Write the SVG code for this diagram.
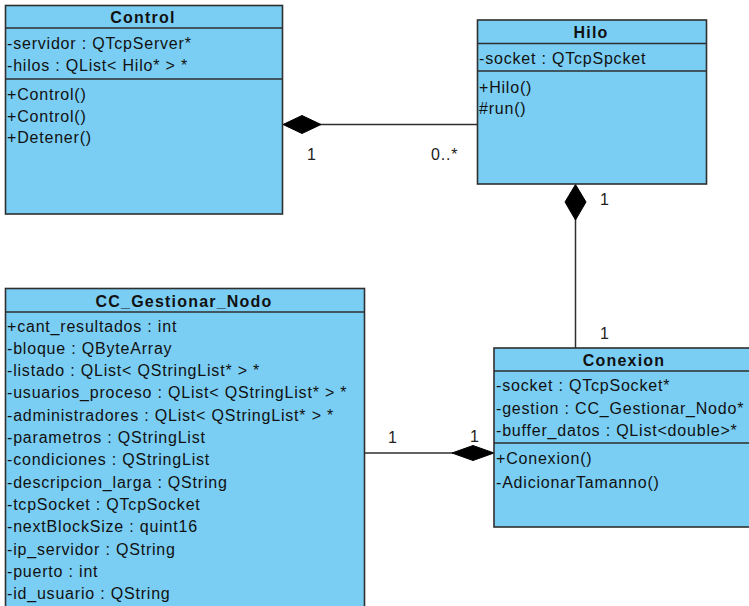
<svg xmlns="http://www.w3.org/2000/svg" width="749" height="606" viewBox="0 0 749 606">
  <style>
    .box { fill: #7acef4; stroke: #2f2f2f; stroke-width: 1.6; }
    .sep { stroke: #2f2f2f; stroke-width: 1.4; fill: none; }
    .title { font-family: "Liberation Sans", Arial, sans-serif; font-size: 16px; font-weight: bold; letter-spacing: 1.2px; fill: #111; text-anchor: middle; }
    .member { font-family: "Liberation Sans", Arial, sans-serif; font-size: 16px; letter-spacing: 0.8px; fill: #111; }
    .edge { stroke: #2f2f2f; stroke-width: 1.5; fill: none; }
    .diamond { fill: #000; stroke: #000; stroke-width: 1; }
    .mult { font-family: "Liberation Sans", Arial, sans-serif; font-size: 16px; letter-spacing: 0.8px; fill: #222; }
  </style>
  <rect width="749" height="606" fill="#fff"/>

  <!-- connectors -->
  <g id="connectors">
    <!-- Control <>— Hilo -->
    <line class="edge" x1="320" y1="124.5" x2="477.5" y2="124.5"/>
    <polygon class="diamond" points="283,124.5 302,115.5 321,124.5 302,133.5"/>
    <text class="mult" x="307" y="160">1</text>
    <text class="mult" x="431" y="160">0..*</text>

    <!-- Hilo <>— Conexion -->
    <line class="edge" x1="575.5" y1="219" x2="575.5" y2="348"/>
    <polygon class="diamond" points="575.5,184.5 586,202 575.5,220 565,202"/>
    <text class="mult" x="600" y="205">1</text>
    <text class="mult" x="600" y="339">1</text>

    <!-- CC_Gestionar_Nodo —<> Conexion -->
    <line class="edge" x1="364.5" y1="453" x2="453" y2="453"/>
    <polygon class="diamond" points="494,453 473,445.5 452,453 473,460.5"/>
    <text class="mult" x="388" y="443">1</text>
    <text class="mult" x="470" y="442">1</text>
  </g>

  <!-- Control -->
  <g id="control">
    <rect class="box" x="5.5" y="5.5" width="277" height="208.5"/>
    <line class="sep" x1="5.5" y1="28" x2="282.5" y2="28"/>
    <line class="sep" x1="5.5" y1="79" x2="282.5" y2="79"/>
    <text class="title" x="143" y="23">Control</text>
    <text class="member" x="7" y="49">-servidor : QTcpServer*</text>
    <text class="member" x="7" y="70.5">-hilos : QList&lt; Hilo* &gt; *</text>
    <text class="member" x="7" y="99.5">+Control()</text>
    <text class="member" x="7" y="121.5">+Control()</text>
    <text class="member" x="7" y="143">+Detener()</text>
  </g>

  <!-- Hilo -->
  <g id="hilo">
    <rect class="box" x="477.5" y="20" width="229" height="164"/>
    <line class="sep" x1="477.5" y1="43.5" x2="706.5" y2="43.5"/>
    <line class="sep" x1="477.5" y1="71" x2="706.5" y2="71"/>
    <text class="title" x="591" y="38">Hilo</text>
    <text class="member" x="479" y="63.5">-socket : QTcpSpcket</text>
    <text class="member" x="479" y="92.5">+Hilo()</text>
    <text class="member" x="479" y="113.5">#run()</text>
  </g>

  <!-- Conexion -->
  <g id="conexion">
    <rect class="box" x="494" y="348" width="262" height="179"/>
    <line class="sep" x1="494" y1="371" x2="756" y2="371"/>
    <line class="sep" x1="494" y1="443" x2="756" y2="443"/>
    <text class="title" x="624" y="366">Conexion</text>
    <text class="member" x="496" y="390.5">-socket : QTcpSocket*</text>
    <text class="member" x="496" y="413.5">-gestion : CC_Gestionar_Nodo*</text>
    <text class="member" x="496" y="435.5">-buffer_datos : QList&lt;double&gt;*</text>
    <text class="member" x="496" y="463.5">+Conexion()</text>
    <text class="member" x="496" y="487.5">-AdicionarTamanno()</text>
  </g>

  <!-- CC_Gestionar_Nodo -->
  <g id="cc-gestionar-nodo">
    <rect class="box" x="5.5" y="288.5" width="359" height="330"/>
    <line class="sep" x1="5.5" y1="312" x2="364.5" y2="312"/>
    <text class="title" x="184" y="306.5">CC_Gestionar_Nodo</text>
    <text class="member" x="7" y="331.5">+cant_resultados : int</text>
    <text class="member" x="7" y="353.8">-bloque : QByteArray</text>
    <text class="member" x="7" y="376.1">-listado : QList&lt; QStringList* &gt; *</text>
    <text class="member" x="7" y="398.4">-usuarios_proceso : QList&lt; QStringList* &gt; *</text>
    <text class="member" x="7" y="420.7">-administradores : QList&lt; QStringList* &gt; *</text>
    <text class="member" x="7" y="443">-parametros : QStringList</text>
    <text class="member" x="7" y="465.3">-condiciones : QStringList</text>
    <text class="member" x="7" y="487.6">-descripcion_larga : QString</text>
    <text class="member" x="7" y="509.9">-tcpSocket : QTcpSocket</text>
    <text class="member" x="7" y="532.2">-nextBlockSize : quint16</text>
    <text class="member" x="7" y="554.5">-ip_servidor : QString</text>
    <text class="member" x="7" y="576.8">-puerto : int</text>
    <text class="member" x="7" y="599.1">-id_usuario : QString</text>
  </g>
</svg>
